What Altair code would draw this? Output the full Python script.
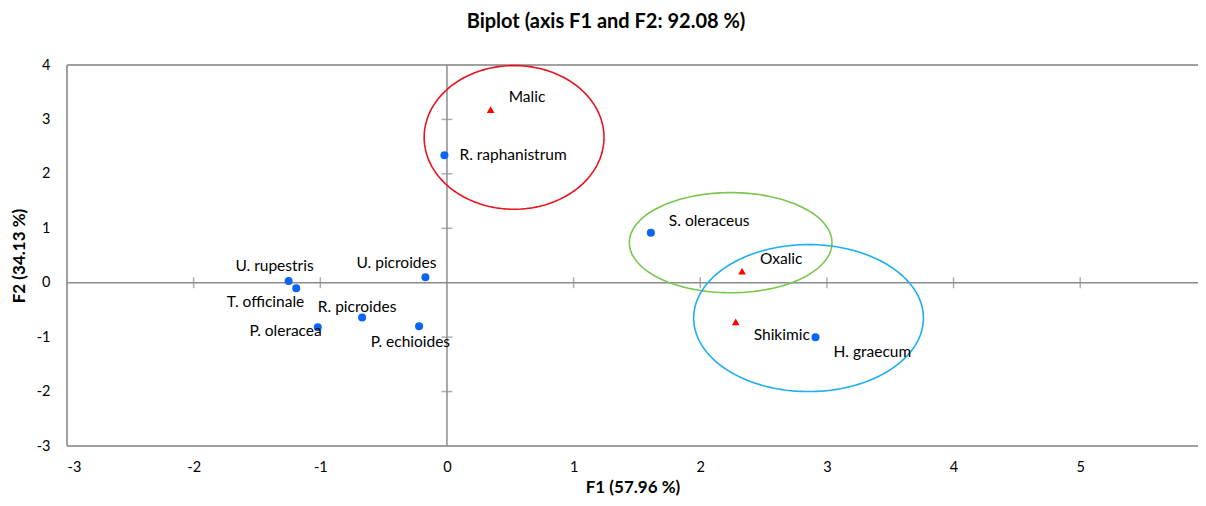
import altair as alt
import pandas as pd

# ---- data ----
species = ["R. raphanistrum", "S. oleraceus", "U. picroides", "U. rupestris",
           "T. officinale", "R. picroides", "P. oleracea", "P. echioides", "H. graecum"]
species_f1 = [-0.02, 1.61, -0.17, -1.25, -1.19, -0.67, -1.02, -0.22, 2.91]
species_f2 = [2.34, 0.92, 0.10, 0.03, -0.10, -0.64, -0.82, -0.80, -1.00]

acids = ["Malic", "Oxalic", "Shikimic"]
acid_f1 = [0.345, 2.33, 2.28]
acid_f2 = [3.18, 0.21, -0.72]

ellipse_cx = [0.53, 2.24, 2.855]
ellipse_cy = [2.67, 0.735, -0.65]
ellipse_rx = [0.71, 0.80, 0.907]
ellipse_ry = [1.32, 0.92, 1.35]
ellipse_colors = ["#e8141c", "#7ac74f", "#1eaff0"]

x_ticks = [-3, -2, -1, 0, 1, 2, 3, 4, 5, 6]
y_ticks = [-3, -2, -1, 0, 1, 2, 3, 4]
x_inner_ticks = [-2, -1, 1, 2, 3, 4, 5]
y_inner_ticks = [-2, -1, 1, 2, 3]
x_min, x_max = -3, 5.93   # right part of the frame is cut off in the reference
y_min, y_max = -3, 4

# label placement (pixel offsets, alignment)
species_label_style = [(15, 0, "left"), (18, -12, "left"), (11, -14, "right"),
                       (25, -15, "right"), (8, 14, "right"), (-5, -11, "center"),
                       (4, 4, "right"), (31, 16, "right"), (18, 15, "left")]
acid_label_style = [(18, -13, "left"), (18, -12, "left"), (18, 13, "left")]

FONT = "Lato"
AXIS_GRAY = "#8c8c8c"
FRAME_GRAY = "#a0a0a0"
LABEL_SIZE = 15.5

xs = alt.Scale(domain=[x_min, x_max], nice=False, zero=False)
ys = alt.Scale(domain=[y_min, y_max], nice=False, zero=False)

x_axis = alt.Axis(values=x_ticks, title="F1 (57.96 %)", grid=False, ticks=False,
                  domain=False, labelFontSize=14.5, labelPadding=14, labelColor="#000",
                  labelExpr="'' + datum.value",
                  titleFontSize=17, titleFontWeight="bold", titlePadding=6,
                  titleColor="#000", labelFont=FONT, titleFont=FONT)
y_axis = alt.Axis(values=y_ticks, title="F2 (34.13 %)", grid=False, ticks=False,
                  domain=False, labelFontSize=14.5, labelPadding=17, labelColor="#000",
                  labelExpr="'' + datum.value",
                  titleFontSize=17, titleFontWeight="bold", titlePadding=8,
                  titleColor="#000", labelFont=FONT, titleFont=FONT)


def X(f):
    return alt.X(f, scale=xs, axis=x_axis)


def Y(f):
    return alt.Y(f, scale=ys, axis=y_axis)


sp_df = pd.DataFrame({"name": species, "f1": species_f1, "f2": species_f2})
ac_df = pd.DataFrame({"name": acids, "f1": acid_f1, "f2": acid_f2})

layers = []

# frame (top, bottom, left)
layers.append(alt.Chart(pd.DataFrame({"v": [y_min, y_max]}))
              .mark_rule(color=FRAME_GRAY, strokeWidth=2).encode(y=Y("v:Q")))
layers.append(alt.Chart(pd.DataFrame({"v": [x_min]}))
              .mark_rule(color=FRAME_GRAY, strokeWidth=2).encode(x=X("v:Q")))

# zero lines
layers.append(alt.Chart(pd.DataFrame({"v": [0]})).mark_rule(color=AXIS_GRAY, strokeWidth=1.5)
              .encode(x=X("v:Q")))
layers.append(alt.Chart(pd.DataFrame({"v": [0]})).mark_rule(color=AXIS_GRAY, strokeWidth=1.5)
              .encode(y=Y("v:Q")))

# crossing tick marks
layers.append(alt.Chart(pd.DataFrame({"t": x_inner_ticks, "z": [0] * len(x_inner_ticks)}))
              .mark_tick(orient="vertical", size=11, thickness=1.5, color=AXIS_GRAY)
              .encode(x=X("t:Q"), y=Y("z:Q")))
layers.append(alt.Chart(pd.DataFrame({"t": y_inner_ticks, "z": [0] * len(y_inner_ticks)}))
              .mark_tick(orient="horizontal", size=11, thickness=1.5, color=AXIS_GRAY)
              .encode(y=Y("t:Q"), x=X("z:Q")))

# ellipses
for cx, cy, rx, ry, col in zip(ellipse_cx, ellipse_cy, ellipse_rx, ellipse_ry, ellipse_colors):
    layers.append(
        alt.Chart(alt.sequence(0, 362, 2, as_="t"))
        .transform_calculate(ex=f"{cx} + {rx} * cos(datum.t * PI / 180)",
                             ey=f"{cy} + {ry} * sin(datum.t * PI / 180)")
        .mark_line(color=col, strokeWidth=1.6)
        .encode(x=X("ex:Q"), y=Y("ey:Q"), order="t:Q"))

# species points
layers.append(
    alt.Chart(sp_df).mark_point(shape="circle", filled=True, size=64, color="#0a64f5", opacity=1)
    .encode(x=X("f1:Q"), y=Y("f2:Q")))

# acid triangles
layers.append(
    alt.Chart(ac_df).mark_point(shape="triangle-up", filled=True, size=58, color="#ff0000", opacity=1)
    .encode(x=X("f1:Q"), y=Y("f2:Q")))

# labels
for i, (dx, dy, al) in enumerate(species_label_style):
    layers.append(
        alt.Chart(sp_df.iloc[[i]]).mark_text(dx=dx, dy=dy, align=al, baseline="middle",
                                             fontSize=LABEL_SIZE, font=FONT, color="#000")
        .encode(x=X("f1:Q"), y=Y("f2:Q"), text="name:N"))
for i, (dx, dy, al) in enumerate(acid_label_style):
    layers.append(
        alt.Chart(ac_df.iloc[[i]]).mark_text(dx=dx, dy=dy, align=al, baseline="middle",
                                             fontSize=LABEL_SIZE, font=FONT, color="#000")
        .encode(x=X("f1:Q"), y=Y("f2:Q"), text="name:N"))

# title
layers.append(
    alt.Chart(pd.DataFrame({"t": ["Biplot (axis F1 and F2: 92.08 %)"]}))
    .mark_text(fontSize=20, fontWeight="bold", font=FONT, color="#000", baseline="middle",
               align="center")
    .encode(x=alt.value(539), y=alt.value(-43), text="t:N"))

chart = (
    alt.layer(*layers)
    .properties(width=1131, height=381,
                autosize=alt.AutoSizeParams(type="none"),
                padding={"left": 59, "top": 57, "right": 0, "bottom": 52})
    .configure_view(strokeWidth=0)
    .configure(font=FONT)
)

chart.save("out.html", embed_options={"renderer": "svg", "actions": False})
